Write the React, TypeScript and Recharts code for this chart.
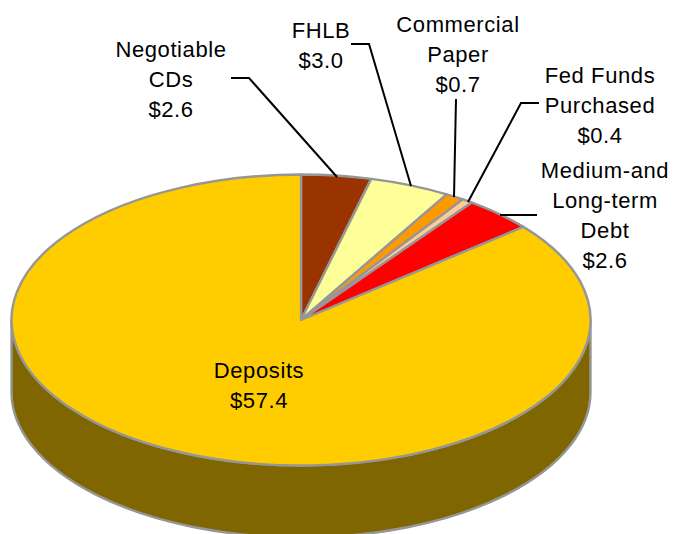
import { PieChart, Pie, Cell } from "recharts"

const names = ["Negotiable CDs", "FHLB", "Commercial Paper", "Fed Funds Purchased", "Medium-and Long-term Debt", "Deposits"]
const values = [2.6, 3.0, 0.7, 0.4, 2.6, 57.4]
const colors = ["#993300", "#ffff99", "#ff9900", "#ffcc99", "#ff0000", "#ffcc00"]

const labelLines = [
  ["Negotiable", "CDs", "$2.6"],
  ["FHLB", "$3.0"],
  ["Commercial", "Paper", "$0.7"],
  ["Fed Funds", "Purchased", "$0.4"],
  ["Medium-and", "Long-term", "Debt", "$2.6"],
  ["Deposits", "$57.4"],
]

// label placement, kept apart from the values: centre x, first baseline, leader line
const labelX = [171, 321, 458, 600, 605, 259]
const labelY = [57, 38, 32, 83, 178, 378]
const leaders = [
  "231,78 249,78 337,177",
  "351,44 369,44 411,186",
  "456,99 454,197",
  "539,103 521,103 468,202",
  "537,215 500,215",
  "",
]

const data = names.map((name, i) => ({ name, value: values[i] }))

const SQUASH = 0.5025
const DEPTH = 72
const EDGE = "#969696"
const WALL = "#806600"
const RAD = Math.PI / 180

function point(cx: number, cy: number, r: number, deg: number) {
  return [cx + r * Math.cos(deg * RAD), cy - r * SQUASH * Math.sin(deg * RAD)]
}

// flattened top face of a slice
function TopSlice({ cx, cy, outerRadius, startAngle, endAngle, fill }: any) {
  const [x0, y0] = point(cx, cy, outerRadius, startAngle)
  const [x1, y1] = point(cx, cy, outerRadius, endAngle)
  const large = Math.abs(startAngle - endAngle) > 180 ? 1 : 0
  const d = `M${cx},${cy}L${x0},${y0}A${outerRadius},${outerRadius * SQUASH} 0 ${large} 1 ${x1},${y1}Z`
  return <path d={d} fill={fill} stroke={EDGE} strokeWidth={2.4} strokeLinejoin="round" />
}

// side wall, only the part of the slice on the front half of the disc
function WallSlice({ cx, cy, outerRadius, startAngle, endAngle }: any) {
  const from = Math.min(startAngle, 0)
  const to = Math.max(endAngle, -180)
  if (from <= to) return null
  const ry = outerRadius * SQUASH
  const [x0, y0] = point(cx, cy, outerRadius, from)
  const [x1, y1] = point(cx, cy, outerRadius, to)
  const d = `M${x0},${y0}A${outerRadius},${ry} 0 0 1 ${x1},${y1}L${x1},${y1 + DEPTH}A${outerRadius},${ry} 0 0 0 ${x0},${y0 + DEPTH}Z`
  return <path d={d} fill={WALL} stroke={EDGE} strokeWidth={2.4} strokeLinejoin="round" />
}

function SliceLabel({ index }: any) {
  const font = { fontFamily: "'Liberation Sans', Arial, sans-serif", fontSize: 22, letterSpacing: 0.6 }
  return (
    <g>
      {leaders[index] && <polyline points={leaders[index]} fill="none" stroke="#000" strokeWidth={2} />}
      {labelLines[index].map((line, i) => (
        <text key={line} x={labelX[index]} y={labelY[index] + i * 30} textAnchor="middle" fill="#000" {...font}>
          {line}
        </text>
      ))}
    </g>
  )
}

export default function App() {
  return (
    <div style={{ position: "absolute", left: 0, top: 0 }}>
      <PieChart width={673} height={534} margin={{ top: 0, right: 0, bottom: 0, left: 0 }}>
        <Pie
          data={data}
          dataKey="value"
          nameKey="name"
          cx={301}
          cy={320}
          outerRadius={289.5}
          startAngle={90}
          endAngle={-270}
          isAnimationActive={false}
          shape={WallSlice}
          legendType="none"
        />
        <Pie
          data={data}
          dataKey="value"
          nameKey="name"
          cx={301}
          cy={320}
          outerRadius={289.5}
          startAngle={90}
          endAngle={-270}
          isAnimationActive={false}
          shape={TopSlice}
          label={SliceLabel}
          labelLine={false}
          legendType="none"
        >
          {names.map((name, i) => (
            <Cell key={name} fill={colors[i]} />
          ))}
        </Pie>
      </PieChart>
    </div>
  )
}
